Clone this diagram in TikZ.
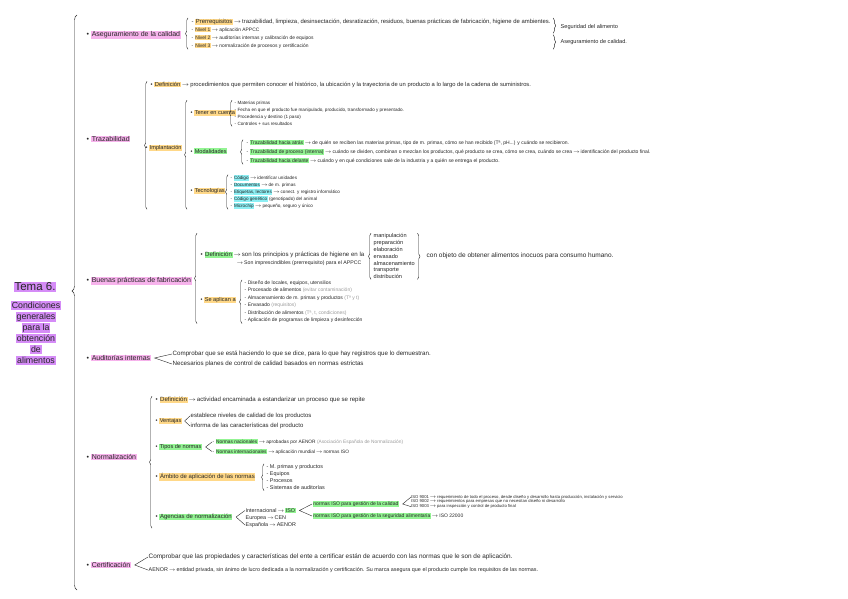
\documentclass[tikz,border=0pt]{standalone}
\usepackage{fontspec}
\setmainfont{Liberation Sans}
\usepackage{xcolor}
\usetikzlibrary{positioning, decorations.pathreplacing, calc}

\definecolor{rosa}{HTML}{F7B3EC}
\definecolor{lila}{HTML}{D58CF7}
\definecolor{amarillo}{HTML}{FFD888}
\definecolor{verde}{HTML}{93F493}
\definecolor{celeste}{HTML}{8DEFF4}
\definecolor{tinta}{HTML}{262626}

\newcommand{\hlr}[1]{{\setlength{\fboxsep}{0.7pt}\colorbox{rosa}{#1}}}
\newcommand{\hll}[1]{{\setlength{\fboxsep}{1pt}\colorbox{lila}{#1}}}
\newcommand{\hly}[1]{{\setlength{\fboxsep}{0.6pt}\colorbox{amarillo}{#1}}}
\newcommand{\hlg}[1]{{\setlength{\fboxsep}{0.6pt}\colorbox{verde}{#1}}}
\newcommand{\hlc}[1]{{\setlength{\fboxsep}{0.5pt}\colorbox{celeste}{#1}}}
\newcommand{\gris}[1]{{\color{black!40}#1}}
\newcommand{\fl}{\,$\rightarrow$\,}

\begin{document}
\begin{tikzpicture}[
    x=1pt, y=1pt,
    txt/.style={anchor=west, inner sep=0.5pt, text=tinta, font=\fontsize{5.6}{6.5}\selectfont},
    chico/.style={txt, font=\fontsize{4.6}{5.5}\selectfont},
    mini/.style={txt, inner sep=0pt, font=\fontsize{4.2}{4.6}\selectfont},
    rama/.style={anchor=west, inner sep=0.5pt, text=tinta, font=\fontsize{7}{8}\selectfont},
    titulo/.style={inner sep=0pt, text=tinta, font=\fontsize{11.5}{13}\selectfont},
    subtitulo/.style={inner sep=0pt, align=center, text=tinta, font=\fontsize{8.8}{11}\selectfont},
    llave/.style={decorate, decoration={brace, amplitude=2.5pt}, line width=0.45pt, tinta},
    pico/.style={line width=0.4pt, tinta}
]
\useasboundingbox (0,0) rectangle (848,-599);

% titulo
\node[titulo] (tema) at (35,-287) {\hll{Tema 6.}};
\node[subtitulo] (condic) at (36,-333) {\hll{Condiciones}\\ \hll{generales}\\ \hll{para la}\\ \hll{obtención}\\ \hll{de}\\ \hll{alimentos}};
\coordinate (mainTop) at (77,-15);
\coordinate (mainBot) at (77,-590);
\draw[llave, decoration={brace, amplitude=5pt, aspect=0.52}] (mainBot) -- (mainTop);

% aseguramiento de la calidad
\node[rama] (aseg) at (86,-35) {\textbullet~\hlr{Aseguramiento de la calidad}};
\node[txt, font=\fontsize{5.9}{6.5}\selectfont] (prer) at (191,-22) {- \hly{Prerrequisitos}\fl trazabilidad, limpieza, desinsectación, desratización, residuos, buenas prácticas de fabricación, higiene de ambientes.};
\node[txt, font=\fontsize{4.9}{6}\selectfont] (niv1) at (191,-30) {- \hly{Nivel 1}\fl aplicación APPCC};
\node[txt, font=\fontsize{4.9}{6}\selectfont] (niv2) at (191,-38) {- \hly{Nivel 2}\fl auditorías internas y calibración de equipos};
\node[txt, font=\fontsize{4.9}{6}\selectfont] (niv3) at (191,-46) {- \hly{Nivel 3}\fl normalización de procesos y certificación};
\draw[llave] ([xshift=-3pt]niv3.south west) -- ([xshift=-3pt]prer.north west);
\draw[llave] ([xshift=2pt]prer.north east) -- ([xshift=2pt]prer.east |- niv1.south);
\draw[llave] ([xshift=2pt]prer.east |- niv2.north) -- ([xshift=2pt]prer.east |- niv3.south);
\node[txt] (segur) at (560,-27) {Seguridad del alimento};
\node[txt] (asegc) at (560,-42) {Aseguramiento de calidad.};

% trazabilidad
\node[rama] (traz) at (86,-139) {\textbullet~\hlr{Trazabilidad}};
\node[txt, font=\fontsize{5.8}{6.5}\selectfont] (trazdef) at (150,-85) {\textbullet~\hly{Definición}\fl procedimientos que permiten conocer el histórico, la ubicación y la trayectoria de un producto a lo largo de la cadena de suministros.};
\node[txt] (implant) at (145,-148) {\textbullet~\hly{Implantación}};
\node[txt] (tener) at (190,-113) {\textbullet~\hly{Tener en cuenta}};
\node[chico] (t1) at (234,-103) {- Materias primas};
\node[chico] (t2) at (234,-110) {- Fecha en que el producto fue manipulado, producido, transformado y presentado.};
\node[chico] (t3) at (234,-117) {- Procedencia y destino (1 paso)};
\node[chico] (t4) at (234,-124) {- Controles + sus resultados};
\draw[llave] ([xshift=-2pt]t4.south west) -- ([xshift=-2pt]t1.north west);
\node[txt] (modal) at (190,-151) {\textbullet~\hlg{Modalidades}};
\node[txt, font=\fontsize{5}{6}\selectfont] (m1) at (246,-143) {- \hlg{Trazabilidad hacia atrás}\fl de quién se reciben las materias primas, tipo de m. primas, cómo se han recibido (Tª, pH...) y cuándo se recibieron.};
\node[txt, font=\fontsize{5}{6}\selectfont] (m2) at (246,-152) {- \hlg{Trazabilidad de proceso (interna)}\fl cuándo se dividen, combinan o mezclan los productos, qué producto se crea, cómo se crea, cuándo se crea\fl identificación del producto final.};
\node[txt, font=\fontsize{5}{6}\selectfont] (m3) at (246,-161) {- \hlg{Trazabilidad hacia delante}\fl cuándo y en qué condiciones sale de la industria y a quién se entrega el producto.};
\draw[llave] ([xshift=-3pt]m3.south west) -- ([xshift=-3pt]m1.north west);
\node[txt] (tecno) at (190,-191) {\textbullet~\hly{Tecnologías}};
\node[chico] (c1) at (230,-178) {- \hlc{Código}\fl identificar unidades};
\node[chico] (c2) at (230,-185) {- \hlc{Documentos}\fl de m. primas};
\node[chico] (c3) at (230,-192) {- \hlc{Etiquetas, lectores}\fl conect. y registro informático};
\node[chico] (c4) at (230,-199) {- \hlc{Código genético} (genotipado) del animal};
\node[chico] (c5) at (230,-206) {- \hlc{Microchip}\fl pequeño, seguro y único};
\draw[llave] ([xshift=-2pt]c5.south west) -- ([xshift=-2pt]c1.north west);
\draw[llave] ([xshift=-3pt]tener.west |- c5.south) -- ([xshift=-3pt]tener.west |- t1.north);
\draw[llave] ([xshift=-3pt]trazdef.west |- c5.south) -- ([xshift=-3pt]trazdef.north west);

% buenas practicas de fabricacion
\node[rama] (bpf) at (86,-281) {\textbullet~\hlr{Buenas prácticas de fabricación}};
\node[txt, font=\fontsize{6.1}{7}\selectfont] (bdef) at (200,-255) {\textbullet~\hlg{Definición}\fl son los principios y prácticas de higiene en la};
\node[txt, font=\fontsize{5.2}{6}\selectfont] (bdef2) at (235,-263.5) {\fl Son imprescindibles (prerrequisito) para el APPCC};
\node[chico, font=\fontsize{5.6}{6}\selectfont] (l1) at (373,-236.5) {manipulación};
\node[chico, font=\fontsize{5.6}{6}\selectfont] (l2) at (373,-243.2) {preparación};
\node[chico, font=\fontsize{5.6}{6}\selectfont] (l3) at (373,-249.9) {elaboración};
\node[chico, font=\fontsize{5.6}{6}\selectfont] (l4) at (373,-256.6) {envasado};
\node[chico, font=\fontsize{5.6}{6}\selectfont] (l5) at (373,-263.3) {almacenamiento};
\node[chico, font=\fontsize{5.6}{6}\selectfont] (l6) at (373,-270) {transporte};
\node[chico, font=\fontsize{5.6}{6}\selectfont] (l7) at (373,-276.7) {distribución};
\draw[llave] ([xshift=-2pt]l7.south west) -- ([xshift=-2pt]l1.north west);
\draw[llave] ([xshift=2pt]l5.east |- l1.north) -- ([xshift=2pt]l5.east |- l7.south);
\node[txt, font=\fontsize{6.5}{7}\selectfont] (bobj) at (426,-256) {con objeto de obtener alimentos inocuos para consumo humano.};
\node[txt] (aplic) at (200,-300) {\textbullet~\hly{Se aplican a}};
\node[chico, font=\fontsize{5}{6}\selectfont] (a1) at (244,-283) {- Diseño de locales, equipos, utensilios};
\node[chico, font=\fontsize{5}{6}\selectfont] (a2) at (244,-290.5) {- Procesado de alimentos \gris{(evitar contaminación)}};
\node[chico, font=\fontsize{5}{6}\selectfont] (a3) at (244,-298) {- Almacenamiento de m. primas y productos \gris{(Tª y t)}};
\node[chico, font=\fontsize{5}{6}\selectfont] (a4) at (244,-305.5) {- Envasado \gris{(requisitos)}};
\node[chico, font=\fontsize{5}{6}\selectfont] (a5) at (244,-313) {- Distribución de alimentos \gris{(Tª, t, condiciones)}};
\node[chico, font=\fontsize{5}{6}\selectfont] (a6) at (244,-320.5) {- Aplicación de programas de limpieza y desinfección};
\draw[llave] ([xshift=-2pt]a6.south west) -- ([xshift=-2pt]a1.north west);
\draw[llave] ([xshift=-3pt]bdef.west |- a6.south) -- ([xshift=-3pt]bdef.west |- l1.north);

% auditorias internas
\node[rama] (audit) at (86,-358) {\textbullet~\hlr{Auditorías internas}};
\coordinate[right=3pt of audit] (auditT);
\node[txt, font=\fontsize{6.2}{7}\selectfont] (au1) at (172,-354) {Comprobar que se está haciendo lo que se dice, para lo que hay registros que lo demuestran.};
\node[txt, font=\fontsize{6.2}{7}\selectfont] (au2) at (172,-364) {Necesarios planes de control de calidad basados en normas estrictas};
\draw[pico] (au1.west) -- (auditT) -- (au2.west);

% normalizacion
\node[rama] (norm) at (86,-457) {\textbullet~\hlr{Normalización}};
\node[txt, font=\fontsize{6.1}{7}\selectfont] (ndef) at (155,-400) {\textbullet~\hly{Definición}\fl actividad encaminada a estandarizar un proceso que se repite};
\node[txt] (vent) at (155,-421) {\textbullet~\hly{Ventajas}};
\coordinate[right=2pt of vent] (ventT);
\node[txt, font=\fontsize{6}{7}\selectfont] (v1) at (190,-416) {establece niveles de calidad de los productos};
\node[txt, font=\fontsize{6}{7}\selectfont] (v2) at (190,-426) {informa de las características del producto};
\draw[pico] (v1.west) -- (ventT) -- (v2.west);
\node[txt] (tipos) at (155,-447) {\textbullet~\hlg{Tipos de normas}};
\coordinate[right=3pt of tipos] (tiposT);
\node[chico, font=\fontsize{4.8}{6}\selectfont] (n1) at (212,-442) {- \hlg{Normas nacionales}\fl aprobadas por AENOR \gris{(Asociación Española de Normalización)}};
\node[chico, font=\fontsize{4.8}{6}\selectfont] (n2) at (212,-451.5) {- \hlg{Normas internacionales}\fl aplicación mundial\fl normas ISO};
\draw[pico] (n1.west) -- (tiposT) -- (n2.west);
\node[txt, font=\fontsize{6}{7}\selectfont] (ambito) at (155,-477) {\textbullet~\hly{Ámbito de aplicación de las normas}};
\node[chico, font=\fontsize{5.4}{6}\selectfont] (b1) at (266,-467) {- M. primas y productos};
\node[chico, font=\fontsize{5.4}{6}\selectfont] (b2) at (266,-474) {- Equipos};
\node[chico, font=\fontsize{5.4}{6}\selectfont] (b3) at (266,-481) {- Procesos};
\node[chico, font=\fontsize{5.4}{6}\selectfont] (b4) at (266,-488) {- Sistemas de auditorías};
\draw[llave] ([xshift=-2pt]b4.south west) -- ([xshift=-2pt]b1.north west);
\node[txt, font=\fontsize{6}{7}\selectfont] (agen) at (155,-517) {\textbullet~\hlg{Agencias de normalización}};
\coordinate[right=3pt of agen] (agenT);
\node[chico, font=\fontsize{5.4}{6}\selectfont] (g1) at (245,-510.5) {Internacional\fl \hlg{ISO}};
\node[chico, font=\fontsize{5.4}{6}\selectfont] (g2) at (245,-518) {Europea\fl CEN};
\node[chico, font=\fontsize{5.4}{6}\selectfont] (g3) at (245,-525) {Española\fl AENOR};
\draw[pico] (g1.west) -- (agenT) -- (g3.west);
\coordinate[right=3pt of g1] (g1T);
\node[chico, font=\fontsize{5}{6}\selectfont] (iso1) at (312,-504) {\hlg{normas ISO para gestión de la calidad}};
\node[chico, font=\fontsize{5}{6}\selectfont] (iso2) at (312,-516) {\hlg{normas ISO para gestión de la seguridad alimentaria}\fl ISO 22000};
\draw[pico] (iso1.west) -- (g1T) -- (iso2.west);
\coordinate[right=3pt of iso1] (iso1T);
\node[mini] (q1) at (411,-497) {ISO 9001\fl requerimiento de todo el proceso, desde diseño y desarrollo hasta producción, instalación y servicio};
\node[mini] (q2) at (411,-501.8) {ISO 9002\fl requerimientos para empresas que no necesitan diseño ni desarrollo};
\node[mini] (q3) at (411,-506.6) {ISO 9003\fl para inspección y control de producto final};
\draw[pico] (q1.west) -- (iso1T) -- (q3.west);
\draw[llave] ([xshift=-3pt]ndef.west |- g3.south) -- ([xshift=-3pt]ndef.north west);

% certificacion
\node[rama] (cert) at (86,-565) {\textbullet~\hlr{Certificación}};
\coordinate[right=3pt of cert] (certT);
\node[txt, font=\fontsize{6.4}{7}\selectfont] (ce1) at (148,-557) {Comprobar que las propiedades y características del ente a certificar están de acuerdo con las normas que le son de aplicación.};
\node[txt, font=\fontsize{5.4}{6}\selectfont] (ce2) at (148,-570) {AENOR\fl entidad privada, sin ánimo de lucro dedicada a la normalización y certificación. Su marca asegura que el producto cumple los requisitos de las normas.};
\draw[pico] (ce1.west) -- (certT) -- (ce2.west);
\end{tikzpicture}
\end{document}
